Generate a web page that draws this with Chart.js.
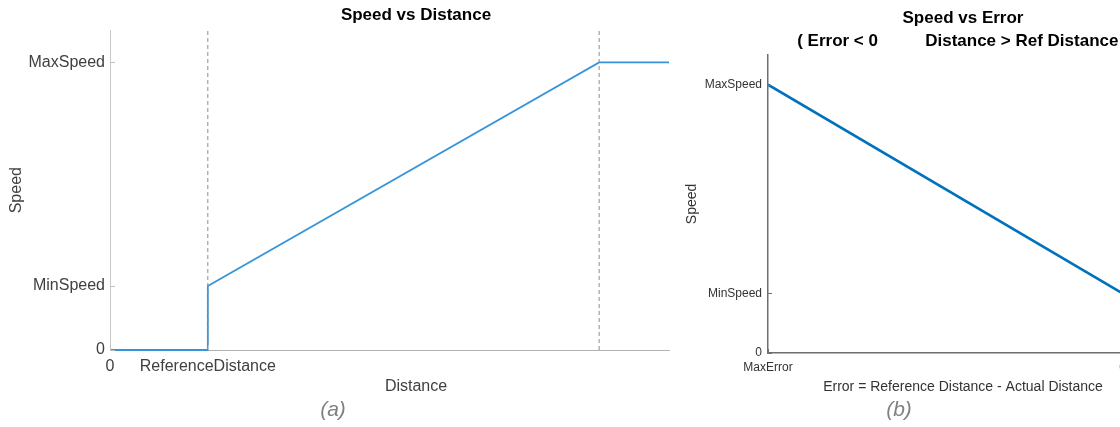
<!DOCTYPE html>
<html>
<head>
<meta charset="utf-8">
<script src="https://cdn.jsdelivr.net/npm/chart.js@4.4.0/dist/chart.umd.min.js"></script>
<style>
  html, body { margin: 0; padding: 0; background: #fff; }
  #wrap { position: relative; width: 1120px; height: 427px; overflow: hidden; font-family: "Liberation Sans", Arial, sans-serif; }
  canvas { position: absolute; top: 0; }
  #chartA { left: 0; }
  #chartB { left: 680px; }
  .cap { position: absolute; top: 397px; width: 60px; text-align: center; font-style: italic; font-size: 21px; color: #808080; }
</style>
</head>
<body>
<div id="wrap">
  <canvas id="chartA" width="832" height="400"></canvas>
  <canvas id="chartB" width="566" height="400"></canvas>
  <div class="cap" style="left:303px">(a)</div>
  <div class="cap" style="left:869px">(b)</div>
</div>
<script>
Chart.defaults.font.family = '"Liberation Sans", Arial, sans-serif';

// (a) speed vs distance
var distance = [0, 17.5, 17.5, 87.5, 100];
var speed = [0, 0, 10, 45, 45];
var markerDistances = [17.5, 87.5];
var speedMax = 50;
var speedTicks = [0, 10, 45];
var speedLabels = ['0', 'MinSpeed', 'MaxSpeed'];
var distanceTicks = [0, 17.5];
var distanceLabels = ['0', 'ReferenceDistance'];

// (b) speed vs error
var error = [-10, 0];
var errorSpeed = [45, 10];
var errorTicks = [-10, 0];
var errorLabels = ['MaxError', '0'];

function pts(xs, ys) {
  return xs.map(function (x, i) { return {x: x, y: ys[i]}; });
}
function fixedTicks(values) {
  return function (scale) { scale.ticks = values.map(function (v) { return {value: v}; }); };
}
function labelFor(values, labels) {
  return function (v) { var i = values.indexOf(v); return i < 0 ? '' : labels[i]; };
}
// invisible right axis, only used to reserve room so titles center like the original
function spacer(w) {
  return {
    type: 'linear', position: 'right',
    grid: {display: false, drawTicks: false}, border: {display: false}, ticks: {display: false},
    afterFit: function (s) { s.width = w; }
  };
}

// matlab style tick marks pointing into the plot
var innerTicks = {
  id: 'innerTicks',
  afterDatasetsDraw: function (chart, args, opts) {
    var ctx = chart.ctx, area = chart.chartArea;
    ctx.save();
    ctx.strokeStyle = opts.color;
    ctx.lineWidth = 1;
    ctx.beginPath();
    chart.scales.y.ticks.forEach(function (t) {
      var py = Math.round(chart.scales.y.getPixelForValue(t.value)) + 0.5;
      ctx.moveTo(area.left, py);
      ctx.lineTo(area.left + opts.length, py);
    });
    chart.scales.x.ticks.forEach(function (t) {
      var px = Math.round(chart.scales.x.getPixelForValue(t.value)) + 0.5;
      ctx.moveTo(px, area.bottom);
      ctx.lineTo(px, area.bottom - opts.length);
    });
    ctx.stroke();
    ctx.restore();
  }
};

// dashed markers for chart a
var markerSets = markerDistances.map(function (d) {
  return {
    data: pts([d, d], [0, speedMax]),
    borderColor: '#8c8c8c', borderWidth: 1, borderDash: [4, 3], pointRadius: 0
  };
});

new Chart(document.getElementById('chartA'), {
  type: 'line',
  data: {
    datasets: markerSets.concat([{
      data: pts(distance, speed),
      borderColor: '#3894d8', borderWidth: 1.8, pointRadius: 0, tension: 0, clip: false
    }])
  },
  plugins: [innerTicks],
  options: {
    responsive: false, animation: false, devicePixelRatio: 1,
    layout: {padding: 0, autoPadding: false},
    plugins: {
      legend: {display: false}, tooltip: {enabled: false},
      innerTicks: {color: '#c0c0c0', length: 5},
      title: {display: true, text: 'Speed vs Distance', color: '#000', font: {size: 17, weight: 'bold'}, padding: {top: 5, bottom: 5}},
      subtitle: {display: true, position: 'bottom', text: 'Distance', color: '#404040', font: {size: 16, weight: 'normal'}, padding: {top: 0, bottom: 4}}
    },
    scales: {
      x: {
        type: 'linear', min: 0, max: 100,
        grid: {display: false, drawTicks: false}, border: {color: '#b3b3b3'},
        afterBuildTicks: fixedTicks(distanceTicks),
        ticks: {callback: labelFor(distanceTicks, distanceLabels), color: '#404040', font: {size: 16}, padding: 7, maxRotation: 0, autoSkip: false},
        afterFit: function (s) { s.height = 26.8; }
      },
      y: {
        type: 'linear', min: 0, max: speedMax,
        grid: {display: false, drawTicks: false}, border: {color: '#c8c8c8'},
        afterBuildTicks: fixedTicks(speedTicks),
        ticks: {callback: labelFor(speedTicks, speedLabels), color: '#404040', font: {size: 16}, padding: 5, autoSkip: false},
        title: {display: true, text: 'Speed', color: '#404040', font: {size: 16}, padding: {top: 7, bottom: 0}},
        afterFit: function (s) { s.width = 110; }
      },
      pad: spacer(163)
    }
  }
});

new Chart(document.getElementById('chartB'), {
  type: 'line',
  data: {
    datasets: [{
      data: pts(error, errorSpeed),
      borderColor: '#0072BD', borderWidth: 2.6, pointRadius: 0, tension: 0
    }]
  },
  plugins: [innerTicks],
  options: {
    responsive: false, animation: false, devicePixelRatio: 1,
    layout: {padding: 0, autoPadding: false},
    plugins: {
      legend: {display: false}, tooltip: {enabled: false},
      innerTicks: {color: '#707070', length: 4},
      title: {
        display: true,
        text: ['Speed vs Error', '( Error < 0\u00a0\u00a0\u00a0\u00a0\u00a0\u00a0\u00a0\u00a0\u00a0\u00a0Distance > Ref Distance )'],
        color: '#000', font: {size: 17, weight: 'bold', lineHeight: 1.35}, padding: {top: 6.5, bottom: 2.5}
      }
    },
    scales: {
      x: {
        type: 'linear', min: -10, max: 1,
        grid: {display: false, drawTicks: false},
        border: {color: '#6e6e6e', width: 1.5},
        afterBuildTicks: fixedTicks(errorTicks),
        ticks: {callback: labelFor(errorTicks, errorLabels), color: '#333', font: {size: 12}, padding: 7, maxRotation: 0, autoSkip: false},
        title: {display: true, text: 'Error = Reference Distance - Actual Distance', color: '#333', font: {size: 14}, padding: {top: 4, bottom: 4}},
        afterFit: function (s) { s.height = 47; }
      },
      y: {
        type: 'linear', min: 0, max: speedMax,
        grid: {display: false, drawTicks: false},
        border: {color: '#6e6e6e', width: 1.5},
        afterBuildTicks: fixedTicks(speedTicks),
        ticks: {callback: labelFor(speedTicks, speedLabels), color: '#333', font: {size: 12}, padding: 6, autoSkip: false},
        title: {display: true, text: 'Speed', color: '#333', font: {size: 14}, padding: {top: 4, bottom: 0}},
        afterFit: function (s) { s.width = 88; }
      },
      pad: spacer(88)
    }
  }
});
</script>
</body>
</html>
